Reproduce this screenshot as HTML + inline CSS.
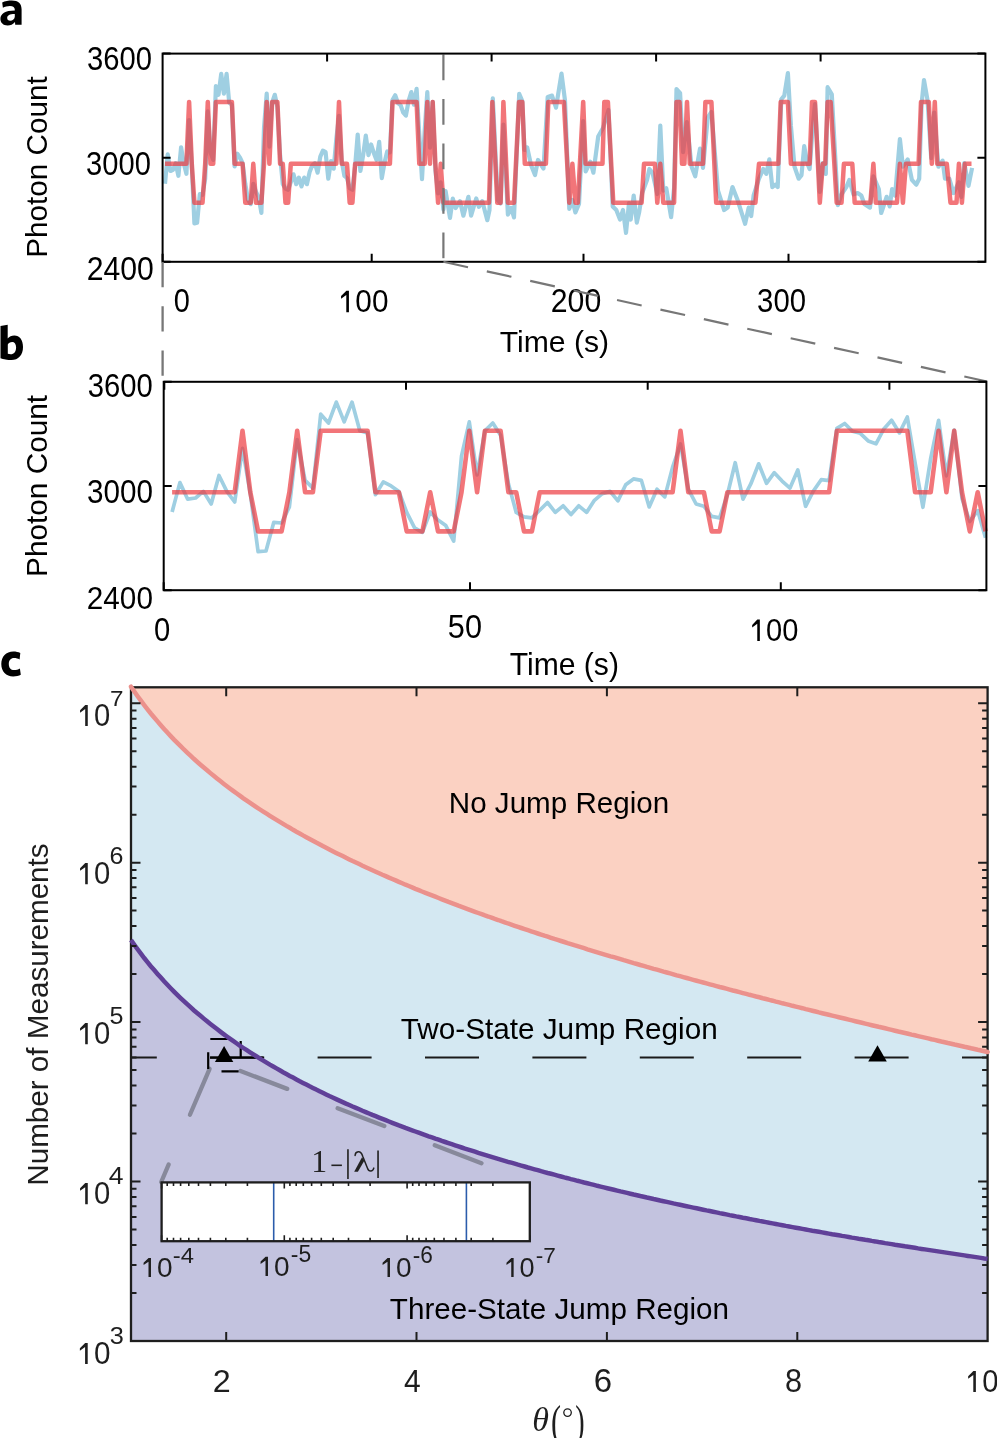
<!DOCTYPE html>
<html><head><meta charset="utf-8"><style>
html,body{margin:0;padding:0;background:#fff;overflow:hidden;}
svg{display:block;}
</style></head><body>
<svg width="997" height="1438" viewBox="0 0 997 1438">
<defs><filter id="gs" x="-0.2" y="-0.2" width="1.4" height="1.4"><feColorMatrix type="saturate" values="0"/></filter></defs>
<rect width="997" height="1438" fill="#fff"/>
<path d="M2.2,2.4 C5,0.9 8.5,0.4 11.8,0.4 C18.3,0.4 21.6,3.2 21.6,9.5 L21.6,24.7 L15.2,24.7 L15,22 C13,24.4 10.5,25.5 7.6,25.5 C3.2,25.5 0.4,22.6 0.4,19 C0.4,13.6 5.2,10.6 14.8,10.5 L14.8,9.8 C14.8,7.4 13.2,5.9 9.9,5.9 C7.4,5.9 4.8,6.6 2.9,7.7 Z M14.8,14 C9.5,14 7.2,15.5 7.2,18 C7.2,19.7 8.4,20.7 10.2,20.7 C12.6,20.7 14.8,19 14.8,16.5 Z" fill="#000" fill-rule="evenodd"/>
<polyline points="165.0,183.8 167.7,154.4 170.4,171.0 173.0,169.8 175.7,163.2 178.4,175.8 181.1,147.3 183.7,163.2 186.4,173.8 189.1,120.2 191.8,165.4 194.4,223.5 197.1,222.8 199.8,194.1 202.5,194.8 205.2,178.7 207.8,111.4 210.5,152.2 213.2,159.9 215.9,86.0 218.5,94.8 221.2,73.9 223.9,93.7 226.6,73.9 229.2,102.6 231.9,104.8 234.6,166.5 237.3,153.7 240.0,157.7 242.6,163.2 245.3,184.2 248.0,199.6 250.7,204.1 253.3,183.8 256.0,191.9 258.7,197.4 261.4,212.9 264.0,127.9 266.7,93.7 269.4,146.7 272.1,102.6 274.8,94.8 277.4,107.0 280.1,155.5 282.8,184.2 285.5,188.6 288.1,189.7 290.8,182.0 293.5,174.3 296.2,184.2 298.9,177.6 301.5,186.4 304.2,177.6 306.9,184.2 309.6,172.1 312.2,165.4 314.9,163.2 317.6,172.7 320.3,156.6 322.9,150.7 325.6,152.2 328.3,178.7 331.0,161.0 333.7,168.7 336.3,139.0 339.0,115.8 341.7,161.0 344.4,175.8 347.0,178.0 349.7,188.2 352.4,189.7 355.1,166.5 357.7,134.5 360.4,171.0 363.1,155.5 365.8,135.6 368.5,155.1 371.1,144.5 373.8,152.9 376.5,159.9 379.2,141.8 381.8,178.1 384.5,162.8 387.2,151.5 389.9,152.4 392.5,100.1 395.2,95.3 397.9,103.0 400.6,105.1 403.3,112.7 405.9,115.6 408.6,100.8 411.3,92.1 414.0,104.7 416.6,88.8 419.3,134.5 422.0,179.1 424.7,130.2 427.3,92.1 430.0,147.6 432.7,101.8 435.4,170.4 438.1,193.3 440.7,182.4 443.4,209.6 445.6,191.2 450.0,218.0 452.8,198.5 455.6,208.0 460.0,201.2 463.4,215.7 468.4,196.8 471.1,215.7 476.2,198.5 478.9,206.8 482.3,201.2 487.3,220.2 489.5,210.0 492.8,98.4 497.8,200.1 500.6,203.5 503.4,124.5 507.9,214.6 511.2,208.0 514.0,217.4 519.2,93.9 522.3,101.1 524.5,150.0 527.2,147.4 531.0,165.0 535.0,175.0 538.0,160.0 543.5,168.5 547.7,96.9 552.0,95.6 556.0,107.7 561.5,73.5 565.0,100.5 569.3,208.8 572.4,200.0 575.4,212.4 579.0,204.0 583.2,121.0 585.6,171.5 590.4,161.8 593.4,172.7 598.2,136.6 603.0,128.0 608.5,110.0 612.7,206.4 616.3,210.0 620.0,219.6 623.0,210.0 626.0,232.9 629.0,203.0 630.7,219.6 633.7,195.5 636.8,222.6 639.2,212.0 642.2,193.0 647.0,180.0 649.4,169.0 652.5,172.7 657.3,194.0 660.3,125.7 663.3,190.7 666.3,188.3 671.1,217.2 674.1,188.0 676.5,89.0 680.1,93.2 683.1,152.2 686.8,122.0 691.6,166.7 695.2,176.3 700.0,148.6 703.0,167.9 707.8,117.3 711.4,111.9 718.0,190.7 724.1,210.0 727.7,207.6 732.5,187.1 737.3,199.2 745.1,223.8 748.7,207.6 751.2,216.0 753.6,195.5 759.0,178.7 763.2,169.0 766.3,173.9 769.3,159.4 772.3,187.1 775.3,184.7 777.7,187.1 781.3,99.3 784.3,95.6 787.9,73.0 790.9,125.7 794.5,166.7 798.7,178.7 801.5,175.1 804.2,146.2 807.2,163.0 809.6,169.0 812.6,128.1 815.0,104.0 819.8,192.0 822.8,163.0 825.8,173.9 827.6,87.2 831.8,94.4 834.3,140.2 837.9,205.2 841.5,194.3 846.3,187.1 849.3,180.0 853.5,194.3 857.7,193.1 861.3,195.5 864.3,204.0 870.0,207.6 873.4,176.3 878.8,189.0 881.2,213.0 886.7,196.8 889.7,206.4 892.1,189.0 895.1,195.5 899.9,139.0 902.9,166.7 907.7,159.4 911.9,179.9 916.2,184.7 919.2,178.7 921.6,104.0 924.0,80.0 927.6,100.5 931.2,158.2 934.2,112.5 938.4,166.7 942.6,160.6 945.0,178.7 949.3,178.7 953.5,193.1 958.9,182.3 961.3,197.0 964.3,163.0 968.5,185.9 972.1,167.9" fill="none" stroke="#9fcfe2" stroke-width="4.2" stroke-linejoin="round"/>
<polyline points="165.0,163.8 167.7,163.8 170.4,163.8 173.0,163.8 175.7,163.8 178.4,163.8 181.1,163.8 183.7,163.8 186.4,163.8 189.1,101.9 191.8,163.8 194.4,202.8 197.1,202.8 199.8,202.8 202.5,202.8 205.2,163.8 207.8,101.9 210.5,163.8 213.2,163.8 215.9,101.9 218.5,101.9 221.2,101.9 223.9,101.9 226.6,101.9 229.2,101.9 231.9,101.9 234.6,163.8 237.3,163.8 240.0,163.8 242.6,163.8 245.3,202.8 248.0,202.8 250.7,202.8 253.3,163.8 256.0,202.8 258.7,202.8 261.4,202.8 264.0,163.8 266.7,101.9 269.4,163.8 272.1,101.9 274.8,101.9 277.4,101.9 280.1,163.8 282.8,163.8 285.5,202.8 288.1,202.8 290.8,163.8 293.5,163.8 296.2,163.8 298.9,163.8 301.5,163.8 304.2,163.8 306.9,163.8 309.6,163.8 312.2,163.8 314.9,163.8 317.6,163.8 320.3,163.8 322.9,163.8 325.6,163.8 328.3,163.8 331.0,163.8 333.7,163.8 336.3,163.8 339.0,101.9 341.7,163.8 344.4,163.8 347.0,163.8 349.7,202.8 352.4,202.8 355.1,163.8 357.7,163.8 360.4,163.8 363.1,163.8 365.8,163.8 368.5,163.8 371.1,163.8 373.8,163.8 376.5,163.8 379.2,163.8 381.8,163.8 384.5,163.8 387.2,163.8 389.9,163.8 392.5,101.9 395.2,101.9 397.9,101.9 400.6,101.9 403.3,101.9 405.9,101.9 408.6,101.9 411.3,101.9 414.0,101.9 416.6,101.9 419.3,163.8 422.0,163.8 424.7,163.8 427.3,101.9 430.0,163.8 432.7,101.9 435.4,163.8 438.1,202.8 440.7,163.8 443.4,202.8 489.0,202.8 492.3,101.9 497.3,202.8 500.6,202.8 503.4,101.9 507.9,202.8 514.0,202.8 519.0,101.9 522.3,101.9 524.8,163.8 545.9,163.8 548.3,101.9 563.9,101.9 569.3,202.8 572.4,163.8 575.4,202.8 577.8,202.8 583.2,101.9 585.6,163.8 602.5,163.8 604.3,101.9 607.9,101.9 613.3,202.8 641.6,202.8 644.0,163.8 654.9,163.8 657.3,202.8 660.3,163.8 663.3,202.8 674.1,202.8 676.5,101.9 679.5,101.9 682.0,163.8 684.4,163.8 687.0,101.9 689.8,163.8 703.0,163.8 705.4,101.9 711.4,101.9 716.2,202.8 755.4,202.8 759.0,163.8 778.3,163.8 780.7,101.9 787.9,101.9 790.9,163.8 809.6,163.8 812.0,101.9 815.0,101.9 819.8,202.8 822.8,163.8 825.2,163.8 827.6,101.9 830.6,101.9 836.7,202.8 841.5,202.8 843.9,163.8 852.3,163.8 854.7,202.8 870.4,202.8 873.4,163.8 875.8,202.8 896.9,202.8 899.9,163.8 902.9,202.8 905.9,163.8 918.6,163.8 921.0,101.9 928.8,101.9 931.8,163.8 934.8,101.9 937.2,163.8 946.8,163.8 950.5,202.8 956.5,202.8 958.9,163.8 961.9,202.8 964.9,163.8 971.5,163.8" fill="none" stroke="#ec3b40" stroke-opacity="0.7" stroke-width="4.5" stroke-linejoin="round"/>
<line x1="443.4" y1="54.4" x2="443.4" y2="261.8" stroke="#777" stroke-width="2.2" stroke-dasharray="25.8 18.7"/>
<rect x="162.6" y="53.6" width="822.8" height="208.2" fill="none" stroke="#000" stroke-width="2.0"/>
<path d="M327.1,53.6v8 M491.6,53.6v8 M656.1,53.6v8 M820.6,53.6v8 M162.6,261.8v-8 M371.7,261.8v-8 M583.5,261.8v-8 M788.5,261.8v-8 M162.6,53.6h8 M985.4,53.6h-8 M162.6,157.7h8 M985.4,157.7h-8 M162.6,261.8h8 M985.4,261.8h-8" stroke="#000" stroke-width="2" fill="none"/>
<g filter="url(#gs)"><g transform="matrix(0.9738 0 0 1.1050 -10.36 -261.40)"><text x="100" y="300" font-size="30" font-family="Liberation Sans, sans-serif" font-weight="normal" font-style="normal" fill="#000">3600</text></g></g>
<g filter="url(#gs)"><g transform="matrix(0.9708 0 0 1.0950 -10.95 -153.20)"><text x="100" y="300" font-size="30" font-family="Liberation Sans, sans-serif" font-weight="normal" font-style="normal" fill="#000">3000</text></g></g>
<g filter="url(#gs)"><g transform="matrix(1.0062 0 0 1.0850 -13.84 -45.40)"><text x="100" y="300" font-size="30" font-family="Liberation Sans, sans-serif" font-weight="normal" font-style="normal" fill="#000">2400</text></g></g>
<g filter="url(#gs)"><g transform="matrix(0.9667 0 0 1.0950 77.17 -16.20)"><text x="100" y="300" font-size="30" font-family="Liberation Sans, sans-serif" font-weight="normal" font-style="normal" fill="#000">0</text></g></g>
<g filter="url(#gs)"><g transform="matrix(0.9915 0 0 1.0429 239.67 -0.56)"><text x="100" y="300" font-size="30" font-family="Liberation Sans, sans-serif" font-weight="normal" font-style="normal" fill="#000"> 00</text><path transform="translate(100,300) scale(0.014648,-0.014648)" d="M696,0 L515,0 L515,1131 L155,890 L155,1060 L520,1409 L696,1409 Z" fill="#000"/></g></g>
<g filter="url(#gs)"><g transform="matrix(1.0085 0 0 1.0950 449.93 -16.20)"><text x="100" y="300" font-size="30" font-family="Liberation Sans, sans-serif" font-weight="normal" font-style="normal" fill="#000">200</text></g></g>
<g filter="url(#gs)"><g transform="matrix(0.9771 0 0 1.0950 659.41 -16.20)"><text x="100" y="300" font-size="30" font-family="Liberation Sans, sans-serif" font-weight="normal" font-style="normal" fill="#000">300</text></g></g>
<g filter="url(#gs)"><g transform="matrix(1.0057 0 0 1.0107 399.13 49.22)"><text x="100" y="300" font-size="30" font-family="Liberation Sans, sans-serif" font-weight="normal" font-style="normal" fill="#000">Time (s)</text></g></g>
<g filter="url(#gs)"><g transform="matrix(1.0091 0 0 0.9890 -255.33 -434.49)"><text transform="translate(300,700) rotate(-90)" x="0" y="0" font-size="30" font-family="Liberation Sans, sans-serif" font-weight="normal" font-style="normal" fill="#000">Photon Count</text></g></g>
<line x1="162.6" y1="262.0" x2="162.6" y2="376" stroke="#777" stroke-width="2.3" stroke-dasharray="25.3 18.9"/>
<line x1="443.4" y1="261.8" x2="987" y2="381.5" stroke="#777" stroke-width="2.2" stroke-dasharray="25.2 19.25"/>
<path d="M0.5,326 L7.7,324.8 L7.7,338.5 C9.3,336.5 11.6,335.4 14.3,335.4 C19.6,335.4 23,339.8 23,346.9 C23,355 18.3,360 11.4,360 C7.5,360 3.4,359.2 0.5,358.2 Z M7.8,344.5 L7.8,353.8 C8.6,354.1 9.6,354.3 10.6,354.3 C14,354.3 16.1,351.6 16.1,347.5 C16.1,343.9 14.6,341.9 12.2,341.9 C10.2,341.9 8.4,343 7.8,344.5 Z" fill="#000" fill-rule="evenodd"/>
<polyline points="172.1,512.0 179.9,482.6 187.7,499.2 195.6,498.0 203.4,491.4 211.2,504.0 219.0,475.5 226.8,491.4 234.7,502.0 242.5,448.4 250.3,493.6 258.1,551.7 266.0,551.0 273.8,522.3 281.6,523.0 289.4,506.9 297.2,439.6 305.1,480.4 312.9,488.1 320.7,414.2 328.5,423.0 336.3,402.1 344.2,421.9 352.0,402.1 359.8,430.8 367.6,433.0 375.4,494.7 383.3,481.9 391.1,485.9 398.9,491.4 406.7,512.4 414.6,527.8 422.4,532.3 430.2,512.0 438.0,520.1 445.8,525.6 453.7,541.1 461.5,456.1 469.3,421.9 477.1,474.9 484.9,430.8 492.8,423.0 500.6,435.2 508.4,483.7 516.2,512.4 524.0,516.8 531.9,517.9 539.7,510.2 547.5,502.5 555.3,512.4 563.1,505.8 571.0,514.6 578.8,505.8 586.6,512.4 594.4,500.3 602.3,493.6 610.1,491.4 617.9,500.9 625.7,484.8 633.5,478.9 641.4,480.4 649.2,506.9 657.0,489.2 664.8,496.9 672.6,467.2 680.5,444.0 688.3,489.2 696.1,504.0 703.9,506.2 711.7,516.4 719.6,517.9 727.4,494.7 735.2,462.7 743.0,499.2 750.9,483.7 758.7,463.8 766.5,483.3 774.3,472.7 782.1,481.1 790.0,488.1 797.8,470.0 805.6,506.3 813.4,491.0 821.2,479.7 829.1,480.6 836.9,428.3 844.7,423.5 852.5,431.2 860.3,433.3 868.2,440.9 876.0,443.8 883.8,429.0 891.6,420.3 899.5,432.9 907.3,417.0 915.1,462.7 922.9,507.3 930.7,458.4 938.6,420.3 946.4,475.8 954.2,430.0 962.0,498.6 969.8,521.5 977.7,510.6 985.5,537.8" fill="none" stroke="#9fcfe2" stroke-width="3.7" stroke-linejoin="round"/>
<polyline points="172.1,492.3 179.9,492.3 187.7,492.3 195.6,492.3 203.4,492.3 211.2,492.3 219.0,492.3 226.8,492.3 234.7,492.3 242.5,430.7 250.3,492.3 258.1,531.4 266.0,531.4 273.8,531.4 281.6,531.4 289.4,492.3 297.2,430.7 305.1,492.3 312.9,492.3 320.7,430.7 328.5,430.7 336.3,430.7 344.2,430.7 352.0,430.7 359.8,430.7 367.6,430.7 375.4,492.3 383.3,492.3 391.1,492.3 398.9,492.3 406.7,531.4 414.6,531.4 422.4,531.4 430.2,492.3 438.0,531.4 445.8,531.4 453.7,531.4 461.5,492.3 469.3,430.7 477.1,492.3 484.9,430.7 492.8,430.7 500.6,430.7 508.4,492.3 516.2,492.3 524.0,531.4 531.9,531.4 539.7,492.3 547.5,492.3 555.3,492.3 563.1,492.3 571.0,492.3 578.8,492.3 586.6,492.3 594.4,492.3 602.3,492.3 610.1,492.3 617.9,492.3 625.7,492.3 633.5,492.3 641.4,492.3 649.2,492.3 657.0,492.3 664.8,492.3 672.6,492.3 680.5,430.7 688.3,492.3 696.1,492.3 703.9,492.3 711.7,531.4 719.6,531.4 727.4,492.3 735.2,492.3 743.0,492.3 750.9,492.3 758.7,492.3 766.5,492.3 774.3,492.3 782.1,492.3 790.0,492.3 797.8,492.3 805.6,492.3 813.4,492.3 821.2,492.3 829.1,492.3 836.9,430.7 844.7,430.7 852.5,430.7 860.3,430.7 868.2,430.7 876.0,430.7 883.8,430.7 891.6,430.7 899.5,430.7 907.3,430.7 915.1,492.3 922.9,492.3 930.7,492.3 938.6,430.7 946.4,492.3 954.2,430.7 962.0,492.3 969.8,531.4 977.7,492.3 985.5,531.4" fill="none" stroke="#ec3b40" stroke-opacity="0.7" stroke-width="4.6" stroke-linejoin="round"/>
<rect x="163.7" y="381.8" width="822.7" height="208.4" fill="none" stroke="#000" stroke-width="2.0"/>
<path d="M164.3,381.8v8 M406.0,381.8v8 M647.7,381.8v8 M889.4,381.8v8 M163.7,590.2v-8 M470.0,590.2v-8 M780.8,590.2v-8 M163.7,381.8h8 M986.4,381.8h-8 M163.7,486.0h8 M986.4,486.0h-8 M163.7,590.2h8 M986.4,590.2h-8" stroke="#000" stroke-width="2" fill="none"/>
<g filter="url(#gs)"><g transform="matrix(0.9754 0 0 1.1050 -9.71 65.80)"><text x="100" y="300" font-size="30" font-family="Liberation Sans, sans-serif" font-weight="normal" font-style="normal" fill="#000">3600</text></g></g>
<g filter="url(#gs)"><g transform="matrix(0.9877 0 0 1.0850 -11.76 177.40)"><text x="100" y="300" font-size="30" font-family="Liberation Sans, sans-serif" font-weight="normal" font-style="normal" fill="#000">3000</text></g></g>
<g filter="url(#gs)"><g transform="matrix(0.9906 0 0 1.0750 -12.24 286.60)"><text x="100" y="300" font-size="30" font-family="Liberation Sans, sans-serif" font-weight="normal" font-style="normal" fill="#000">2400</text></g></g>
<g filter="url(#gs)"><g transform="matrix(0.9733 0 0 1.1000 56.59 311.30)"><text x="100" y="300" font-size="30" font-family="Liberation Sans, sans-serif" font-weight="normal" font-style="normal" fill="#000">0</text></g></g>
<g filter="url(#gs)"><g transform="matrix(1.0226 0 0 1.1000 345.62 308.30)"><text x="100" y="300" font-size="30" font-family="Liberation Sans, sans-serif" font-weight="normal" font-style="normal" fill="#000">50</text></g></g>
<g filter="url(#gs)"><g transform="matrix(0.9681 0 0 1.0429 653.16 328.24)"><text x="100" y="300" font-size="30" font-family="Liberation Sans, sans-serif" font-weight="normal" font-style="normal" fill="#000"> 00</text><path transform="translate(100,300) scale(0.014648,-0.014648)" d="M696,0 L515,0 L515,1131 L155,890 L155,1060 L520,1409 L696,1409 Z" fill="#000"/></g></g>
<g filter="url(#gs)"><g transform="matrix(1.0038 0 0 1.0179 409.32 370.04)"><text x="100" y="300" font-size="30" font-family="Liberation Sans, sans-serif" font-weight="normal" font-style="normal" fill="#000">Time (s)</text></g></g>
<g filter="url(#gs)"><g transform="matrix(1.0091 0 0 0.9928 -255.33 -117.99)"><text transform="translate(300,700) rotate(-90)" x="0" y="0" font-size="30" font-family="Liberation Sans, sans-serif" font-weight="normal" font-style="normal" fill="#000">Photon Count</text></g></g>
<path d="M20.3,652.9 C18.3,651.9 15.9,651.4 13.4,651.4 C6,651.4 1.3,656.6 1.3,664 C1.3,671.4 6,676.4 13.2,676.4 C16.1,676.4 18.9,675.7 20.8,674.8 L19.9,668.4 C18.2,669.4 16.1,670.1 14,670.1 C10.9,670.1 8.8,667.9 8.8,664 C8.8,660.4 10.7,658 14.1,658 C16.2,658 18,658.6 19.6,659.4 Z" fill="#000" fill-rule="evenodd"/>
<path d="M131.0,687.3 L131.0,686.7 L134.3,691.5 L137.6,696.2 L140.9,700.7 L144.2,705.1 L147.5,709.3 L150.8,713.5 L154.2,717.5 L157.5,721.4 L160.8,725.2 L164.1,728.9 L167.4,732.6 L170.7,736.1 L174.0,739.6 L177.3,742.9 L180.6,746.2 L183.9,749.5 L187.2,752.6 L190.5,755.7 L193.8,758.8 L197.1,761.7 L200.5,764.7 L203.8,767.5 L207.1,770.3 L210.4,773.1 L213.7,775.8 L217.0,778.5 L220.3,781.1 L223.6,783.7 L226.9,786.2 L230.2,788.7 L233.5,791.1 L236.8,793.5 L240.1,795.9 L243.4,798.3 L246.8,800.6 L250.1,802.8 L253.4,805.1 L256.7,807.3 L260.0,809.5 L263.3,811.6 L266.6,813.7 L269.9,815.8 L273.2,817.9 L276.5,819.9 L279.8,821.9 L283.1,823.9 L286.4,825.9 L289.8,827.8 L293.1,829.8 L296.4,831.7 L299.7,833.5 L303.0,835.4 L306.3,837.2 L309.6,839.0 L312.9,840.8 L316.2,842.6 L319.5,844.3 L322.8,846.1 L326.1,847.8 L329.4,849.5 L332.7,851.2 L336.1,852.9 L339.4,854.5 L342.7,856.1 L346.0,857.8 L349.3,859.4 L352.6,861.0 L355.9,862.5 L359.2,864.1 L362.5,865.7 L365.8,867.2 L369.1,868.7 L372.4,870.2 L375.7,871.7 L379.1,873.2 L382.4,874.7 L385.7,876.1 L389.0,877.6 L392.3,879.0 L395.6,880.4 L398.9,881.9 L402.2,883.3 L405.5,884.7 L408.8,886.0 L412.1,887.4 L415.4,888.8 L418.7,890.1 L422.0,891.5 L425.4,892.8 L428.7,894.1 L432.0,895.4 L435.3,896.7 L438.6,898.0 L441.9,899.3 L445.2,900.6 L448.5,901.9 L451.8,903.1 L455.1,904.4 L458.4,905.7 L461.7,906.9 L465.0,908.1 L468.3,909.3 L471.7,910.6 L475.0,911.8 L478.3,913.0 L481.6,914.2 L484.9,915.4 L488.2,916.5 L491.5,917.7 L494.8,918.9 L498.1,920.0 L501.4,921.2 L504.7,922.3 L508.0,923.5 L511.3,924.6 L514.7,925.8 L518.0,926.9 L521.3,928.0 L524.6,929.1 L527.9,930.2 L531.2,931.3 L534.5,932.4 L537.8,933.5 L541.1,934.6 L544.4,935.7 L547.7,936.7 L551.0,937.8 L554.3,938.9 L557.6,939.9 L561.0,941.0 L564.3,942.0 L567.6,943.1 L570.9,944.1 L574.2,945.2 L577.5,946.2 L580.8,947.2 L584.1,948.2 L587.4,949.3 L590.7,950.3 L594.0,951.3 L597.3,952.3 L600.6,953.3 L603.9,954.3 L607.3,955.3 L610.6,956.3 L613.9,957.2 L617.2,958.2 L620.5,959.2 L623.8,960.2 L627.1,961.1 L630.4,962.1 L633.7,963.1 L637.0,964.0 L640.3,965.0 L643.6,965.9 L646.9,966.9 L650.3,967.8 L653.6,968.8 L656.9,969.7 L660.2,970.6 L663.5,971.6 L666.8,972.5 L670.1,973.4 L673.4,974.3 L676.7,975.3 L680.0,976.2 L683.3,977.1 L686.6,978.0 L689.9,978.9 L693.2,979.8 L696.6,980.7 L699.9,981.6 L703.2,982.5 L706.5,983.4 L709.8,984.3 L713.1,985.2 L716.4,986.1 L719.7,987.0 L723.0,987.8 L726.3,988.7 L729.6,989.6 L732.9,990.5 L736.2,991.3 L739.5,992.2 L742.9,993.1 L746.2,993.9 L749.5,994.8 L752.8,995.6 L756.1,996.5 L759.4,997.3 L762.7,998.2 L766.0,999.0 L769.3,999.9 L772.6,1000.7 L775.9,1001.6 L779.2,1002.4 L782.5,1003.3 L785.9,1004.1 L789.2,1004.9 L792.5,1005.8 L795.8,1006.6 L799.1,1007.4 L802.4,1008.2 L805.7,1009.1 L809.0,1009.9 L812.3,1010.7 L815.6,1011.5 L818.9,1012.4 L822.2,1013.2 L825.5,1014.0 L828.8,1014.8 L832.2,1015.6 L835.5,1016.4 L838.8,1017.2 L842.1,1018.0 L845.4,1018.8 L848.7,1019.6 L852.0,1020.4 L855.3,1021.2 L858.6,1022.0 L861.9,1022.8 L865.2,1023.6 L868.5,1024.4 L871.8,1025.2 L875.2,1026.0 L878.5,1026.8 L881.8,1027.5 L885.1,1028.3 L888.4,1029.1 L891.7,1029.9 L895.0,1030.7 L898.3,1031.5 L901.6,1032.2 L904.9,1033.0 L908.2,1033.8 L911.5,1034.6 L914.8,1035.3 L918.1,1036.1 L921.5,1036.9 L924.8,1037.6 L928.1,1038.4 L931.4,1039.2 L934.7,1039.9 L938.0,1040.7 L941.3,1041.5 L944.6,1042.2 L947.9,1043.0 L951.2,1043.7 L954.5,1044.5 L957.8,1045.2 L961.1,1046.0 L964.4,1046.8 L967.8,1047.5 L971.1,1048.3 L974.4,1049.0 L977.7,1049.8 L981.0,1050.5 L984.3,1051.3 L987.6,1052.0 L987.6,687.3Z" fill="#fbd1c2"/>
<path d="M131.0,686.7 L134.3,691.5 L137.6,696.2 L140.9,700.7 L144.2,705.1 L147.5,709.3 L150.8,713.5 L154.2,717.5 L157.5,721.4 L160.8,725.2 L164.1,728.9 L167.4,732.6 L170.7,736.1 L174.0,739.6 L177.3,742.9 L180.6,746.2 L183.9,749.5 L187.2,752.6 L190.5,755.7 L193.8,758.8 L197.1,761.7 L200.5,764.7 L203.8,767.5 L207.1,770.3 L210.4,773.1 L213.7,775.8 L217.0,778.5 L220.3,781.1 L223.6,783.7 L226.9,786.2 L230.2,788.7 L233.5,791.1 L236.8,793.5 L240.1,795.9 L243.4,798.3 L246.8,800.6 L250.1,802.8 L253.4,805.1 L256.7,807.3 L260.0,809.5 L263.3,811.6 L266.6,813.7 L269.9,815.8 L273.2,817.9 L276.5,819.9 L279.8,821.9 L283.1,823.9 L286.4,825.9 L289.8,827.8 L293.1,829.8 L296.4,831.7 L299.7,833.5 L303.0,835.4 L306.3,837.2 L309.6,839.0 L312.9,840.8 L316.2,842.6 L319.5,844.3 L322.8,846.1 L326.1,847.8 L329.4,849.5 L332.7,851.2 L336.1,852.9 L339.4,854.5 L342.7,856.1 L346.0,857.8 L349.3,859.4 L352.6,861.0 L355.9,862.5 L359.2,864.1 L362.5,865.7 L365.8,867.2 L369.1,868.7 L372.4,870.2 L375.7,871.7 L379.1,873.2 L382.4,874.7 L385.7,876.1 L389.0,877.6 L392.3,879.0 L395.6,880.4 L398.9,881.9 L402.2,883.3 L405.5,884.7 L408.8,886.0 L412.1,887.4 L415.4,888.8 L418.7,890.1 L422.0,891.5 L425.4,892.8 L428.7,894.1 L432.0,895.4 L435.3,896.7 L438.6,898.0 L441.9,899.3 L445.2,900.6 L448.5,901.9 L451.8,903.1 L455.1,904.4 L458.4,905.7 L461.7,906.9 L465.0,908.1 L468.3,909.3 L471.7,910.6 L475.0,911.8 L478.3,913.0 L481.6,914.2 L484.9,915.4 L488.2,916.5 L491.5,917.7 L494.8,918.9 L498.1,920.0 L501.4,921.2 L504.7,922.3 L508.0,923.5 L511.3,924.6 L514.7,925.8 L518.0,926.9 L521.3,928.0 L524.6,929.1 L527.9,930.2 L531.2,931.3 L534.5,932.4 L537.8,933.5 L541.1,934.6 L544.4,935.7 L547.7,936.7 L551.0,937.8 L554.3,938.9 L557.6,939.9 L561.0,941.0 L564.3,942.0 L567.6,943.1 L570.9,944.1 L574.2,945.2 L577.5,946.2 L580.8,947.2 L584.1,948.2 L587.4,949.3 L590.7,950.3 L594.0,951.3 L597.3,952.3 L600.6,953.3 L603.9,954.3 L607.3,955.3 L610.6,956.3 L613.9,957.2 L617.2,958.2 L620.5,959.2 L623.8,960.2 L627.1,961.1 L630.4,962.1 L633.7,963.1 L637.0,964.0 L640.3,965.0 L643.6,965.9 L646.9,966.9 L650.3,967.8 L653.6,968.8 L656.9,969.7 L660.2,970.6 L663.5,971.6 L666.8,972.5 L670.1,973.4 L673.4,974.3 L676.7,975.3 L680.0,976.2 L683.3,977.1 L686.6,978.0 L689.9,978.9 L693.2,979.8 L696.6,980.7 L699.9,981.6 L703.2,982.5 L706.5,983.4 L709.8,984.3 L713.1,985.2 L716.4,986.1 L719.7,987.0 L723.0,987.8 L726.3,988.7 L729.6,989.6 L732.9,990.5 L736.2,991.3 L739.5,992.2 L742.9,993.1 L746.2,993.9 L749.5,994.8 L752.8,995.6 L756.1,996.5 L759.4,997.3 L762.7,998.2 L766.0,999.0 L769.3,999.9 L772.6,1000.7 L775.9,1001.6 L779.2,1002.4 L782.5,1003.3 L785.9,1004.1 L789.2,1004.9 L792.5,1005.8 L795.8,1006.6 L799.1,1007.4 L802.4,1008.2 L805.7,1009.1 L809.0,1009.9 L812.3,1010.7 L815.6,1011.5 L818.9,1012.4 L822.2,1013.2 L825.5,1014.0 L828.8,1014.8 L832.2,1015.6 L835.5,1016.4 L838.8,1017.2 L842.1,1018.0 L845.4,1018.8 L848.7,1019.6 L852.0,1020.4 L855.3,1021.2 L858.6,1022.0 L861.9,1022.8 L865.2,1023.6 L868.5,1024.4 L871.8,1025.2 L875.2,1026.0 L878.5,1026.8 L881.8,1027.5 L885.1,1028.3 L888.4,1029.1 L891.7,1029.9 L895.0,1030.7 L898.3,1031.5 L901.6,1032.2 L904.9,1033.0 L908.2,1033.8 L911.5,1034.6 L914.8,1035.3 L918.1,1036.1 L921.5,1036.9 L924.8,1037.6 L928.1,1038.4 L931.4,1039.2 L934.7,1039.9 L938.0,1040.7 L941.3,1041.5 L944.6,1042.2 L947.9,1043.0 L951.2,1043.7 L954.5,1044.5 L957.8,1045.2 L961.1,1046.0 L964.4,1046.8 L967.8,1047.5 L971.1,1048.3 L974.4,1049.0 L977.7,1049.8 L981.0,1050.5 L984.3,1051.3 L987.6,1052.0 L987.6,1341.0 L131.0,1341.0Z" fill="#d4e8f2"/>
<path d="M131.0,939.9 L134.3,944.7 L137.6,949.3 L140.9,953.7 L144.2,958.0 L147.5,962.1 L150.8,966.2 L154.2,970.1 L157.5,973.9 L160.8,977.6 L164.1,981.3 L167.4,984.8 L170.7,988.2 L174.0,991.6 L177.3,994.9 L180.6,998.1 L183.9,1001.2 L187.2,1004.2 L190.5,1007.2 L193.8,1010.2 L197.1,1013.0 L200.5,1015.8 L203.8,1018.6 L207.1,1021.3 L210.4,1023.9 L213.7,1026.5 L217.0,1029.1 L220.3,1031.6 L223.6,1034.1 L226.9,1036.5 L230.2,1038.9 L233.5,1041.2 L236.8,1043.5 L240.1,1045.8 L243.4,1048.0 L246.8,1050.2 L250.1,1052.3 L253.4,1054.4 L256.7,1056.5 L260.0,1058.6 L263.3,1060.6 L266.6,1062.6 L269.9,1064.6 L273.2,1066.5 L276.5,1068.4 L279.8,1070.3 L283.1,1072.2 L286.4,1074.0 L289.8,1075.9 L293.1,1077.6 L296.4,1079.4 L299.7,1081.2 L303.0,1082.9 L306.3,1084.6 L309.6,1086.3 L312.9,1087.9 L316.2,1089.6 L319.5,1091.2 L322.8,1092.8 L326.1,1094.4 L329.4,1096.0 L332.7,1097.5 L336.1,1099.1 L339.4,1100.6 L342.7,1102.1 L346.0,1103.6 L349.3,1105.0 L352.6,1106.5 L355.9,1107.9 L359.2,1109.3 L362.5,1110.8 L365.8,1112.1 L369.1,1113.5 L372.4,1114.9 L375.7,1116.2 L379.1,1117.6 L382.4,1118.9 L385.7,1120.2 L389.0,1121.5 L392.3,1122.8 L395.6,1124.1 L398.9,1125.4 L402.2,1126.6 L405.5,1127.9 L408.8,1129.1 L412.1,1130.3 L415.4,1131.5 L418.7,1132.7 L422.0,1133.9 L425.4,1135.1 L428.7,1136.3 L432.0,1137.4 L435.3,1138.6 L438.6,1139.7 L441.9,1140.9 L445.2,1142.0 L448.5,1143.1 L451.8,1144.2 L455.1,1145.3 L458.4,1146.4 L461.7,1147.5 L465.0,1148.6 L468.3,1149.6 L471.7,1150.7 L475.0,1151.7 L478.3,1152.8 L481.6,1153.8 L484.9,1154.8 L488.2,1155.8 L491.5,1156.8 L494.8,1157.8 L498.1,1158.8 L501.4,1159.8 L504.7,1160.8 L508.0,1161.8 L511.3,1162.7 L514.7,1163.7 L518.0,1164.7 L521.3,1165.6 L524.6,1166.5 L527.9,1167.5 L531.2,1168.4 L534.5,1169.3 L537.8,1170.2 L541.1,1171.2 L544.4,1172.1 L547.7,1173.0 L551.0,1173.8 L554.3,1174.7 L557.6,1175.6 L561.0,1176.5 L564.3,1177.4 L567.6,1178.2 L570.9,1179.1 L574.2,1179.9 L577.5,1180.8 L580.8,1181.6 L584.1,1182.5 L587.4,1183.3 L590.7,1184.1 L594.0,1184.9 L597.3,1185.8 L600.6,1186.6 L603.9,1187.4 L607.3,1188.2 L610.6,1189.0 L613.9,1189.8 L617.2,1190.6 L620.5,1191.4 L623.8,1192.1 L627.1,1192.9 L630.4,1193.7 L633.7,1194.5 L637.0,1195.2 L640.3,1196.0 L643.6,1196.7 L646.9,1197.5 L650.3,1198.2 L653.6,1199.0 L656.9,1199.7 L660.2,1200.5 L663.5,1201.2 L666.8,1201.9 L670.1,1202.6 L673.4,1203.4 L676.7,1204.1 L680.0,1204.8 L683.3,1205.5 L686.6,1206.2 L689.9,1206.9 L693.2,1207.6 L696.6,1208.3 L699.9,1209.0 L703.2,1209.7 L706.5,1210.4 L709.8,1211.0 L713.1,1211.7 L716.4,1212.4 L719.7,1213.1 L723.0,1213.7 L726.3,1214.4 L729.6,1215.1 L732.9,1215.7 L736.2,1216.4 L739.5,1217.0 L742.9,1217.7 L746.2,1218.3 L749.5,1219.0 L752.8,1219.6 L756.1,1220.2 L759.4,1220.9 L762.7,1221.5 L766.0,1222.1 L769.3,1222.8 L772.6,1223.4 L775.9,1224.0 L779.2,1224.6 L782.5,1225.2 L785.9,1225.9 L789.2,1226.5 L792.5,1227.1 L795.8,1227.7 L799.1,1228.3 L802.4,1228.9 L805.7,1229.5 L809.0,1230.1 L812.3,1230.7 L815.6,1231.2 L818.9,1231.8 L822.2,1232.4 L825.5,1233.0 L828.8,1233.6 L832.2,1234.2 L835.5,1234.7 L838.8,1235.3 L842.1,1235.9 L845.4,1236.4 L848.7,1237.0 L852.0,1237.6 L855.3,1238.1 L858.6,1238.7 L861.9,1239.2 L865.2,1239.8 L868.5,1240.3 L871.8,1240.9 L875.2,1241.4 L878.5,1242.0 L881.8,1242.5 L885.1,1243.1 L888.4,1243.6 L891.7,1244.1 L895.0,1244.7 L898.3,1245.2 L901.6,1245.7 L904.9,1246.3 L908.2,1246.8 L911.5,1247.3 L914.8,1247.8 L918.1,1248.4 L921.5,1248.9 L924.8,1249.4 L928.1,1249.9 L931.4,1250.4 L934.7,1250.9 L938.0,1251.4 L941.3,1251.9 L944.6,1252.4 L947.9,1252.9 L951.2,1253.4 L954.5,1253.9 L957.8,1254.4 L961.1,1254.9 L964.4,1255.4 L967.8,1255.9 L971.1,1256.4 L974.4,1256.9 L977.7,1257.4 L981.0,1257.9 L984.3,1258.4 L987.6,1258.8 L987.6,1341.0 L131.0,1341.0Z" fill="#c3c3df"/>
<g filter="url(#gs)"><g transform="matrix(0.9864 0 0 0.9821 350.19 518.56)"><text x="100" y="300" font-size="30" font-family="Liberation Sans, sans-serif" font-weight="normal" font-style="normal" fill="#000">No Jump Region</text></g></g>
<g filter="url(#gs)"><g transform="matrix(0.9905 0 0 0.9750 301.76 746.55)"><text x="100" y="300" font-size="30" font-family="Liberation Sans, sans-serif" font-weight="normal" font-style="normal" fill="#000">Two-State Jump Region</text></g></g>
<g filter="url(#gs)"><g transform="matrix(0.9883 0 0 0.9607 290.98 1030.52)"><text x="100" y="300" font-size="30" font-family="Liberation Sans, sans-serif" font-weight="normal" font-style="normal" fill="#000">Three-State Jump Region</text></g></g>
<line x1="131.0" y1="1057.5" x2="987.6" y2="1057.5" stroke="#1a1a1a" stroke-width="2" stroke-dasharray="54 53.4" stroke-dashoffset="28.2"/>
<line x1="209.6" y1="1068.8" x2="161.2" y2="1182" stroke="#87899b" stroke-width="4.3" stroke-linecap="round" stroke-dasharray="50 54"/>
<line x1="240.5" y1="1071" x2="529.3" y2="1181.5" stroke="#87899b" stroke-width="4.3" stroke-linecap="round" stroke-dasharray="50 54"/>
<path d="M210.3,1039H227.8 M221.5,1071.4H238.6 M208.2,1052.3V1069.1 M240.7,1041.1V1058 M210,1057.6H263.4" stroke="#000" stroke-width="2.2" fill="none"/>
<path d="M224.1,1045.9 L233.3,1061.9 L214.9,1061.9 Z" fill="#000"/>
<path d="M877.5,1045.3 L886.8,1061.5 L868.2,1061.5 Z" fill="#000"/>
<rect x="131.0" y="687.3" width="856.6" height="653.7" fill="none" stroke="#1e1e1e" stroke-width="2.3"/>
<path d="M131.0,686.7 L134.3,691.5 L137.6,696.2 L140.9,700.7 L144.2,705.1 L147.5,709.3 L150.8,713.5 L154.2,717.5 L157.5,721.4 L160.8,725.2 L164.1,728.9 L167.4,732.6 L170.7,736.1 L174.0,739.6 L177.3,742.9 L180.6,746.2 L183.9,749.5 L187.2,752.6 L190.5,755.7 L193.8,758.8 L197.1,761.7 L200.5,764.7 L203.8,767.5 L207.1,770.3 L210.4,773.1 L213.7,775.8 L217.0,778.5 L220.3,781.1 L223.6,783.7 L226.9,786.2 L230.2,788.7 L233.5,791.1 L236.8,793.5 L240.1,795.9 L243.4,798.3 L246.8,800.6 L250.1,802.8 L253.4,805.1 L256.7,807.3 L260.0,809.5 L263.3,811.6 L266.6,813.7 L269.9,815.8 L273.2,817.9 L276.5,819.9 L279.8,821.9 L283.1,823.9 L286.4,825.9 L289.8,827.8 L293.1,829.8 L296.4,831.7 L299.7,833.5 L303.0,835.4 L306.3,837.2 L309.6,839.0 L312.9,840.8 L316.2,842.6 L319.5,844.3 L322.8,846.1 L326.1,847.8 L329.4,849.5 L332.7,851.2 L336.1,852.9 L339.4,854.5 L342.7,856.1 L346.0,857.8 L349.3,859.4 L352.6,861.0 L355.9,862.5 L359.2,864.1 L362.5,865.7 L365.8,867.2 L369.1,868.7 L372.4,870.2 L375.7,871.7 L379.1,873.2 L382.4,874.7 L385.7,876.1 L389.0,877.6 L392.3,879.0 L395.6,880.4 L398.9,881.9 L402.2,883.3 L405.5,884.7 L408.8,886.0 L412.1,887.4 L415.4,888.8 L418.7,890.1 L422.0,891.5 L425.4,892.8 L428.7,894.1 L432.0,895.4 L435.3,896.7 L438.6,898.0 L441.9,899.3 L445.2,900.6 L448.5,901.9 L451.8,903.1 L455.1,904.4 L458.4,905.7 L461.7,906.9 L465.0,908.1 L468.3,909.3 L471.7,910.6 L475.0,911.8 L478.3,913.0 L481.6,914.2 L484.9,915.4 L488.2,916.5 L491.5,917.7 L494.8,918.9 L498.1,920.0 L501.4,921.2 L504.7,922.3 L508.0,923.5 L511.3,924.6 L514.7,925.8 L518.0,926.9 L521.3,928.0 L524.6,929.1 L527.9,930.2 L531.2,931.3 L534.5,932.4 L537.8,933.5 L541.1,934.6 L544.4,935.7 L547.7,936.7 L551.0,937.8 L554.3,938.9 L557.6,939.9 L561.0,941.0 L564.3,942.0 L567.6,943.1 L570.9,944.1 L574.2,945.2 L577.5,946.2 L580.8,947.2 L584.1,948.2 L587.4,949.3 L590.7,950.3 L594.0,951.3 L597.3,952.3 L600.6,953.3 L603.9,954.3 L607.3,955.3 L610.6,956.3 L613.9,957.2 L617.2,958.2 L620.5,959.2 L623.8,960.2 L627.1,961.1 L630.4,962.1 L633.7,963.1 L637.0,964.0 L640.3,965.0 L643.6,965.9 L646.9,966.9 L650.3,967.8 L653.6,968.8 L656.9,969.7 L660.2,970.6 L663.5,971.6 L666.8,972.5 L670.1,973.4 L673.4,974.3 L676.7,975.3 L680.0,976.2 L683.3,977.1 L686.6,978.0 L689.9,978.9 L693.2,979.8 L696.6,980.7 L699.9,981.6 L703.2,982.5 L706.5,983.4 L709.8,984.3 L713.1,985.2 L716.4,986.1 L719.7,987.0 L723.0,987.8 L726.3,988.7 L729.6,989.6 L732.9,990.5 L736.2,991.3 L739.5,992.2 L742.9,993.1 L746.2,993.9 L749.5,994.8 L752.8,995.6 L756.1,996.5 L759.4,997.3 L762.7,998.2 L766.0,999.0 L769.3,999.9 L772.6,1000.7 L775.9,1001.6 L779.2,1002.4 L782.5,1003.3 L785.9,1004.1 L789.2,1004.9 L792.5,1005.8 L795.8,1006.6 L799.1,1007.4 L802.4,1008.2 L805.7,1009.1 L809.0,1009.9 L812.3,1010.7 L815.6,1011.5 L818.9,1012.4 L822.2,1013.2 L825.5,1014.0 L828.8,1014.8 L832.2,1015.6 L835.5,1016.4 L838.8,1017.2 L842.1,1018.0 L845.4,1018.8 L848.7,1019.6 L852.0,1020.4 L855.3,1021.2 L858.6,1022.0 L861.9,1022.8 L865.2,1023.6 L868.5,1024.4 L871.8,1025.2 L875.2,1026.0 L878.5,1026.8 L881.8,1027.5 L885.1,1028.3 L888.4,1029.1 L891.7,1029.9 L895.0,1030.7 L898.3,1031.5 L901.6,1032.2 L904.9,1033.0 L908.2,1033.8 L911.5,1034.6 L914.8,1035.3 L918.1,1036.1 L921.5,1036.9 L924.8,1037.6 L928.1,1038.4 L931.4,1039.2 L934.7,1039.9 L938.0,1040.7 L941.3,1041.5 L944.6,1042.2 L947.9,1043.0 L951.2,1043.7 L954.5,1044.5 L957.8,1045.2 L961.1,1046.0 L964.4,1046.8 L967.8,1047.5 L971.1,1048.3 L974.4,1049.0 L977.7,1049.8 L981.0,1050.5 L984.3,1051.3 L987.6,1052.0" fill="none" stroke="#eb918c" stroke-width="4.5" stroke-linecap="round"/>
<path d="M131.0,939.9 L134.3,944.7 L137.6,949.3 L140.9,953.7 L144.2,958.0 L147.5,962.1 L150.8,966.2 L154.2,970.1 L157.5,973.9 L160.8,977.6 L164.1,981.3 L167.4,984.8 L170.7,988.2 L174.0,991.6 L177.3,994.9 L180.6,998.1 L183.9,1001.2 L187.2,1004.2 L190.5,1007.2 L193.8,1010.2 L197.1,1013.0 L200.5,1015.8 L203.8,1018.6 L207.1,1021.3 L210.4,1023.9 L213.7,1026.5 L217.0,1029.1 L220.3,1031.6 L223.6,1034.1 L226.9,1036.5 L230.2,1038.9 L233.5,1041.2 L236.8,1043.5 L240.1,1045.8 L243.4,1048.0 L246.8,1050.2 L250.1,1052.3 L253.4,1054.4 L256.7,1056.5 L260.0,1058.6 L263.3,1060.6 L266.6,1062.6 L269.9,1064.6 L273.2,1066.5 L276.5,1068.4 L279.8,1070.3 L283.1,1072.2 L286.4,1074.0 L289.8,1075.9 L293.1,1077.6 L296.4,1079.4 L299.7,1081.2 L303.0,1082.9 L306.3,1084.6 L309.6,1086.3 L312.9,1087.9 L316.2,1089.6 L319.5,1091.2 L322.8,1092.8 L326.1,1094.4 L329.4,1096.0 L332.7,1097.5 L336.1,1099.1 L339.4,1100.6 L342.7,1102.1 L346.0,1103.6 L349.3,1105.0 L352.6,1106.5 L355.9,1107.9 L359.2,1109.3 L362.5,1110.8 L365.8,1112.1 L369.1,1113.5 L372.4,1114.9 L375.7,1116.2 L379.1,1117.6 L382.4,1118.9 L385.7,1120.2 L389.0,1121.5 L392.3,1122.8 L395.6,1124.1 L398.9,1125.4 L402.2,1126.6 L405.5,1127.9 L408.8,1129.1 L412.1,1130.3 L415.4,1131.5 L418.7,1132.7 L422.0,1133.9 L425.4,1135.1 L428.7,1136.3 L432.0,1137.4 L435.3,1138.6 L438.6,1139.7 L441.9,1140.9 L445.2,1142.0 L448.5,1143.1 L451.8,1144.2 L455.1,1145.3 L458.4,1146.4 L461.7,1147.5 L465.0,1148.6 L468.3,1149.6 L471.7,1150.7 L475.0,1151.7 L478.3,1152.8 L481.6,1153.8 L484.9,1154.8 L488.2,1155.8 L491.5,1156.8 L494.8,1157.8 L498.1,1158.8 L501.4,1159.8 L504.7,1160.8 L508.0,1161.8 L511.3,1162.7 L514.7,1163.7 L518.0,1164.7 L521.3,1165.6 L524.6,1166.5 L527.9,1167.5 L531.2,1168.4 L534.5,1169.3 L537.8,1170.2 L541.1,1171.2 L544.4,1172.1 L547.7,1173.0 L551.0,1173.8 L554.3,1174.7 L557.6,1175.6 L561.0,1176.5 L564.3,1177.4 L567.6,1178.2 L570.9,1179.1 L574.2,1179.9 L577.5,1180.8 L580.8,1181.6 L584.1,1182.5 L587.4,1183.3 L590.7,1184.1 L594.0,1184.9 L597.3,1185.8 L600.6,1186.6 L603.9,1187.4 L607.3,1188.2 L610.6,1189.0 L613.9,1189.8 L617.2,1190.6 L620.5,1191.4 L623.8,1192.1 L627.1,1192.9 L630.4,1193.7 L633.7,1194.5 L637.0,1195.2 L640.3,1196.0 L643.6,1196.7 L646.9,1197.5 L650.3,1198.2 L653.6,1199.0 L656.9,1199.7 L660.2,1200.5 L663.5,1201.2 L666.8,1201.9 L670.1,1202.6 L673.4,1203.4 L676.7,1204.1 L680.0,1204.8 L683.3,1205.5 L686.6,1206.2 L689.9,1206.9 L693.2,1207.6 L696.6,1208.3 L699.9,1209.0 L703.2,1209.7 L706.5,1210.4 L709.8,1211.0 L713.1,1211.7 L716.4,1212.4 L719.7,1213.1 L723.0,1213.7 L726.3,1214.4 L729.6,1215.1 L732.9,1215.7 L736.2,1216.4 L739.5,1217.0 L742.9,1217.7 L746.2,1218.3 L749.5,1219.0 L752.8,1219.6 L756.1,1220.2 L759.4,1220.9 L762.7,1221.5 L766.0,1222.1 L769.3,1222.8 L772.6,1223.4 L775.9,1224.0 L779.2,1224.6 L782.5,1225.2 L785.9,1225.9 L789.2,1226.5 L792.5,1227.1 L795.8,1227.7 L799.1,1228.3 L802.4,1228.9 L805.7,1229.5 L809.0,1230.1 L812.3,1230.7 L815.6,1231.2 L818.9,1231.8 L822.2,1232.4 L825.5,1233.0 L828.8,1233.6 L832.2,1234.2 L835.5,1234.7 L838.8,1235.3 L842.1,1235.9 L845.4,1236.4 L848.7,1237.0 L852.0,1237.6 L855.3,1238.1 L858.6,1238.7 L861.9,1239.2 L865.2,1239.8 L868.5,1240.3 L871.8,1240.9 L875.2,1241.4 L878.5,1242.0 L881.8,1242.5 L885.1,1243.1 L888.4,1243.6 L891.7,1244.1 L895.0,1244.7 L898.3,1245.2 L901.6,1245.7 L904.9,1246.3 L908.2,1246.8 L911.5,1247.3 L914.8,1247.8 L918.1,1248.4 L921.5,1248.9 L924.8,1249.4 L928.1,1249.9 L931.4,1250.4 L934.7,1250.9 L938.0,1251.4 L941.3,1251.9 L944.6,1252.4 L947.9,1252.9 L951.2,1253.4 L954.5,1253.9 L957.8,1254.4 L961.1,1254.9 L964.4,1255.4 L967.8,1255.9 L971.1,1256.4 L974.4,1256.9 L977.7,1257.4 L981.0,1257.9 L984.3,1258.4 L987.6,1258.8" fill="none" stroke="#604098" stroke-width="4.5"/>
<path d="M131.0,1341.0h9.5 M987.6,1341.0h-9.5 M131.0,1181.5h9.5 M987.6,1181.5h-9.5 M131.0,1022.1h9.5 M987.6,1022.1h-9.5 M131.0,862.7h9.5 M987.6,862.7h-9.5 M131.0,703.2h9.5 M987.6,703.2h-9.5 M131.0,1293.0h5.5 M987.6,1293.0h-5.5 M131.0,1264.9h5.5 M987.6,1264.9h-5.5 M131.0,1245.0h5.5 M987.6,1245.0h-5.5 M131.0,1229.5h5.5 M987.6,1229.5h-5.5 M131.0,1216.9h5.5 M987.6,1216.9h-5.5 M131.0,1206.2h5.5 M987.6,1206.2h-5.5 M131.0,1197.0h5.5 M987.6,1197.0h-5.5 M131.0,1188.8h5.5 M987.6,1188.8h-5.5 M131.0,1133.6h5.5 M987.6,1133.6h-5.5 M131.0,1105.5h5.5 M987.6,1105.5h-5.5 M131.0,1085.6h5.5 M987.6,1085.6h-5.5 M131.0,1070.1h5.5 M987.6,1070.1h-5.5 M131.0,1057.5h5.5 M987.6,1057.5h-5.5 M131.0,1046.8h5.5 M987.6,1046.8h-5.5 M131.0,1037.6h5.5 M987.6,1037.6h-5.5 M131.0,1029.4h5.5 M987.6,1029.4h-5.5 M131.0,974.1h5.5 M987.6,974.1h-5.5 M131.0,946.0h5.5 M987.6,946.0h-5.5 M131.0,926.1h5.5 M987.6,926.1h-5.5 M131.0,910.6h5.5 M987.6,910.6h-5.5 M131.0,898.0h5.5 M987.6,898.0h-5.5 M131.0,887.3h5.5 M987.6,887.3h-5.5 M131.0,878.1h5.5 M987.6,878.1h-5.5 M131.0,869.9h5.5 M987.6,869.9h-5.5 M131.0,814.7h5.5 M987.6,814.7h-5.5 M131.0,786.6h5.5 M987.6,786.6h-5.5 M131.0,766.7h5.5 M987.6,766.7h-5.5 M131.0,751.2h5.5 M987.6,751.2h-5.5 M131.0,738.6h5.5 M987.6,738.6h-5.5 M131.0,727.9h5.5 M987.6,727.9h-5.5 M131.0,718.7h5.5 M987.6,718.7h-5.5 M131.0,710.5h5.5 M987.6,710.5h-5.5 M226.2,1341.0v-9 M226.2,687.3v9 M416.5,1341.0v-9 M416.5,687.3v9 M606.9,1341.0v-9 M606.9,687.3v9 M797.3,1341.0v-9 M797.3,687.3v9" stroke="#1e1e1e" stroke-width="2" fill="none"/>
<g filter="url(#gs)"><g transform="matrix(0.9733 0 0 1.0190 -19.48 420.29)"><text x="100" y="300" font-size="30" font-family="Liberation Sans, sans-serif" font-weight="normal" font-style="normal" fill="#1e1e1e"> 0</text><path transform="translate(100,300) scale(0.014648,-0.014648)" d="M696,0 L515,0 L515,1131 L155,890 L155,1060 L520,1409 L696,1409 Z" fill="#1e1e1e"/></g></g>
<g filter="url(#gs)"><g transform="matrix(1.0545 0 0 0.9882 4.59 409.13)"><text x="100" y="300" font-size="23" font-family="Liberation Sans, sans-serif" font-weight="normal" font-style="normal" fill="#1e1e1e">7</text></g></g>
<g filter="url(#gs)"><g transform="matrix(0.9733 0 0 1.0238 -19.48 577.06)"><text x="100" y="300" font-size="30" font-family="Liberation Sans, sans-serif" font-weight="normal" font-style="normal" fill="#1e1e1e"> 0</text><path transform="translate(100,300) scale(0.014648,-0.014648)" d="M696,0 L515,0 L515,1131 L155,890 L155,1060 L520,1409 L696,1409 Z" fill="#1e1e1e"/></g></g>
<g filter="url(#gs)"><g transform="matrix(1.0909 0 0 1.0529 0.52 548.22)"><text x="100" y="300" font-size="23" font-family="Liberation Sans, sans-serif" font-weight="normal" font-style="normal" fill="#1e1e1e">6</text></g></g>
<g filter="url(#gs)"><g transform="matrix(0.9733 0 0 1.0238 -19.48 737.06)"><text x="100" y="300" font-size="30" font-family="Liberation Sans, sans-serif" font-weight="normal" font-style="normal" fill="#1e1e1e"> 0</text><path transform="translate(100,300) scale(0.014648,-0.014648)" d="M696,0 L515,0 L515,1131 L155,890 L155,1060 L520,1409 L696,1409 Z" fill="#1e1e1e"/></g></g>
<g filter="url(#gs)"><g transform="matrix(1.0909 0 0 1.0294 0.52 715.28)"><text x="100" y="300" font-size="23" font-family="Liberation Sans, sans-serif" font-weight="normal" font-style="normal" fill="#1e1e1e">5</text></g></g>
<g filter="url(#gs)"><g transform="matrix(0.9733 0 0 1.0238 -19.48 897.06)"><text x="100" y="300" font-size="30" font-family="Liberation Sans, sans-serif" font-weight="normal" font-style="normal" fill="#1e1e1e"> 0</text><path transform="translate(100,300) scale(0.014648,-0.014648)" d="M696,0 L515,0 L515,1131 L155,890 L155,1060 L520,1409 L696,1409 Z" fill="#1e1e1e"/></g></g>
<g filter="url(#gs)"><g transform="matrix(1.1545 0 0 1.0353 -6.61 873.21)"><text x="100" y="300" font-size="23" font-family="Liberation Sans, sans-serif" font-weight="normal" font-style="normal" fill="#1e1e1e">4</text></g></g>
<g filter="url(#gs)"><g transform="matrix(0.9900 0 0 1.0286 -21.38 1055.53)"><text x="100" y="300" font-size="30" font-family="Liberation Sans, sans-serif" font-weight="normal" font-style="normal" fill="#1e1e1e"> 0</text><path transform="translate(100,300) scale(0.014648,-0.014648)" d="M696,0 L515,0 L515,1131 L155,890 L155,1060 L520,1409 L696,1409 Z" fill="#1e1e1e"/></g></g>
<g filter="url(#gs)"><g transform="matrix(1.1000 0 0 1.0412 -0.20 1031.75)"><text x="100" y="300" font-size="23" font-family="Liberation Sans, sans-serif" font-weight="normal" font-style="normal" fill="#1e1e1e">3</text></g></g>
<g filter="url(#gs)"><g transform="matrix(1.0769 0 0 1.0650 105.15 1072.30)"><text x="100" y="300" font-size="30" font-family="Liberation Sans, sans-serif" font-weight="normal" font-style="normal" fill="#1e1e1e">2</text></g></g>
<g filter="url(#gs)"><g transform="matrix(1.0000 0 0 1.0650 304.00 1072.30)"><text x="100" y="300" font-size="30" font-family="Liberation Sans, sans-serif" font-weight="normal" font-style="normal" fill="#1e1e1e">4</text></g></g>
<g filter="url(#gs)"><g transform="matrix(1.1000 0 0 1.0800 483.80 1068.10)"><text x="100" y="300" font-size="30" font-family="Liberation Sans, sans-serif" font-weight="normal" font-style="normal" fill="#1e1e1e">6</text></g></g>
<g filter="url(#gs)"><g transform="matrix(1.0214 0 0 1.0800 682.84 1068.10)"><text x="100" y="300" font-size="30" font-family="Liberation Sans, sans-serif" font-weight="normal" font-style="normal" fill="#1e1e1e">8</text></g></g>
<g filter="url(#gs)"><g transform="matrix(0.9733 0 0 1.0190 868.62 1086.29)"><text x="100" y="300" font-size="30" font-family="Liberation Sans, sans-serif" font-weight="normal" font-style="normal" fill="#1e1e1e"> 0</text><path transform="translate(100,300) scale(0.014648,-0.014648)" d="M696,0 L515,0 L515,1131 L155,890 L155,1060 L520,1409 L696,1409 Z" fill="#1e1e1e"/></g></g>
<g filter="url(#gs)"><g transform="matrix(0.9955 0 0 0.9872 -251.04 494.63)"><text transform="translate(300,700) rotate(-90)" x="0" y="0" font-size="30" font-family="Liberation Sans, sans-serif" font-weight="normal" font-style="normal" fill="#1e1e1e">Number of Measurements</text></g></g>
<g filter="url(#gs)"><g transform="matrix(1.1333 0 0 1.1238 418.90 1093.46)"><text x="100" y="300" font-size="30" font-family="Liberation Serif, serif" font-weight="normal" font-style="italic" fill="#1e1e1e">θ</text></g></g>
<g filter="url(#gs)"><g transform="matrix(1.0000 0 0 1.5000 451.10 986.00)"><text x="100" y="300" font-size="30" font-family="Liberation Serif, serif" font-weight="normal" font-style="normal" fill="#1e1e1e">(</text></g></g>
<g filter="url(#gs)"><g transform="matrix(0.9375 0 0 1.5000 481.51 986.00)"><text x="100" y="300" font-size="30" font-family="Liberation Serif, serif" font-weight="normal" font-style="normal" fill="#1e1e1e">)</text></g></g>
<circle cx="567.55" cy="1412.55" r="3.75" fill="none" stroke="#1e1e1e" stroke-width="1.3"/>
<rect x="161.6" y="1182.4" width="368.2" height="58.8" fill="#fff"/>
<line x1="273.7" y1="1182.4" x2="273.7" y2="1241.2" stroke="#2b5cab" stroke-width="1.6"/>
<line x1="466.4" y1="1182.4" x2="466.4" y2="1241.2" stroke="#2b5cab" stroke-width="1.6"/>
<path d="M161.6,1182.4v6 M161.6,1241.2v-6 M284.3,1182.4v6 M284.3,1241.2v-6 M407.1,1182.4v6 M407.1,1241.2v-6 M529.8,1182.4v6 M529.8,1241.2v-6 M247.4,1182.4v3.5 M247.4,1241.2v-3.5 M225.8,1182.4v3.5 M225.8,1241.2v-3.5 M210.4,1182.4v3.5 M210.4,1241.2v-3.5 M198.5,1182.4v3.5 M198.5,1241.2v-3.5 M188.8,1182.4v3.5 M188.8,1241.2v-3.5 M180.6,1182.4v3.5 M180.6,1241.2v-3.5 M173.5,1182.4v3.5 M173.5,1241.2v-3.5 M167.2,1182.4v3.5 M167.2,1241.2v-3.5 M370.1,1182.4v3.5 M370.1,1241.2v-3.5 M348.5,1182.4v3.5 M348.5,1241.2v-3.5 M333.2,1182.4v3.5 M333.2,1241.2v-3.5 M321.3,1182.4v3.5 M321.3,1241.2v-3.5 M311.6,1182.4v3.5 M311.6,1241.2v-3.5 M303.3,1182.4v3.5 M303.3,1241.2v-3.5 M296.2,1182.4v3.5 M296.2,1241.2v-3.5 M289.9,1182.4v3.5 M289.9,1241.2v-3.5 M492.9,1182.4v3.5 M492.9,1241.2v-3.5 M471.2,1182.4v3.5 M471.2,1241.2v-3.5 M455.9,1182.4v3.5 M455.9,1241.2v-3.5 M444.0,1182.4v3.5 M444.0,1241.2v-3.5 M434.3,1182.4v3.5 M434.3,1241.2v-3.5 M426.1,1182.4v3.5 M426.1,1241.2v-3.5 M419.0,1182.4v3.5 M419.0,1241.2v-3.5 M412.7,1182.4v3.5 M412.7,1241.2v-3.5" stroke="#1e1e1e" stroke-width="1.6" fill="none"/>
<rect x="161.6" y="1182.4" width="368.2" height="58.8" fill="none" stroke="#1e1e1e" stroke-width="2.3"/>
<g filter="url(#gs)"><g transform="matrix(1.1200 0 0 1.1056 29.46 945.33)"><text x="100" y="300" font-size="25" font-family="Liberation Sans, sans-serif" font-weight="normal" font-style="normal" fill="#1e1e1e"> 0</text><path transform="translate(100,300) scale(0.012207,-0.012207)" d="M696,0 L515,0 L515,1131 L155,890 L155,1060 L520,1409 L696,1409 Z" fill="#1e1e1e"/></g></g>
<g filter="url(#gs)"><g transform="matrix(1.2533 0 0 1.2077 47.51 900.59)"><text x="100" y="300" font-size="19" font-family="Liberation Sans, sans-serif" font-weight="normal" font-style="normal" fill="#1e1e1e">-4</text></g></g>
<g filter="url(#gs)"><g transform="matrix(1.1200 0 0 1.1222 146.46 939.43)"><text x="100" y="300" font-size="25" font-family="Liberation Sans, sans-serif" font-weight="normal" font-style="normal" fill="#1e1e1e"> 0</text><path transform="translate(100,300) scale(0.012207,-0.012207)" d="M696,0 L515,0 L515,1131 L155,890 L155,1060 L520,1409 L696,1409 Z" fill="#1e1e1e"/></g></g>
<g filter="url(#gs)"><g transform="matrix(1.2067 0 0 1.2308 170.13 892.77)"><text x="100" y="300" font-size="19" font-family="Liberation Sans, sans-serif" font-weight="normal" font-style="normal" fill="#1e1e1e">-5</text></g></g>
<g filter="url(#gs)"><g transform="matrix(1.1200 0 0 1.1056 268.46 945.33)"><text x="100" y="300" font-size="25" font-family="Liberation Sans, sans-serif" font-weight="normal" font-style="normal" fill="#1e1e1e"> 0</text><path transform="translate(100,300) scale(0.012207,-0.012207)" d="M696,0 L515,0 L515,1131 L155,890 L155,1060 L520,1409 L696,1409 Z" fill="#1e1e1e"/></g></g>
<g filter="url(#gs)"><g transform="matrix(1.1933 0 0 1.2769 293.47 880.42)"><text x="100" y="300" font-size="19" font-family="Liberation Sans, sans-serif" font-weight="normal" font-style="normal" fill="#1e1e1e">-6</text></g></g>
<g filter="url(#gs)"><g transform="matrix(1.0840 0 0 1.1056 396.03 945.33)"><text x="100" y="300" font-size="25" font-family="Liberation Sans, sans-serif" font-weight="normal" font-style="normal" fill="#1e1e1e"> 0</text><path transform="translate(100,300) scale(0.012207,-0.012207)" d="M696,0 L515,0 L515,1131 L155,890 L155,1060 L520,1409 L696,1409 Z" fill="#1e1e1e"/></g></g>
<g filter="url(#gs)"><g transform="matrix(1.1933 0 0 1.2077 416.47 900.59)"><text x="100" y="300" font-size="19" font-family="Liberation Sans, sans-serif" font-weight="normal" font-style="normal" fill="#1e1e1e">-7</text></g></g>
<g filter="url(#gs)"><g transform="matrix(1.0600 0 0 1.0789 205.32 848.32)"><text x="100" y="300" font-size="30" font-family="Liberation Serif, serif" font-weight="normal" font-style="normal" fill="#222">1</text></g></g>
<path d="M355.1,1155.4 C355.2,1151.4 360.6,1149.2 362.7,1156.2 L367.5,1168.2 C368.7,1171.6 372.6,1172.4 373.8,1168.1" fill="none" stroke="#222" stroke-width="1.5" stroke-linecap="round"/>
<path d="M362.0,1157.2 L364.4,1160.6 L357.9,1171.7 L354.2,1171.7 Z" fill="#222"/>
<path d="M331.4,1165.3H341.9" stroke="#222" stroke-width="1.6"/>
<path d="M347.95,1149.3V1179.1 M378.05,1150.4V1178" stroke="#333" stroke-width="1.8"/>
</svg>
</body></html>
